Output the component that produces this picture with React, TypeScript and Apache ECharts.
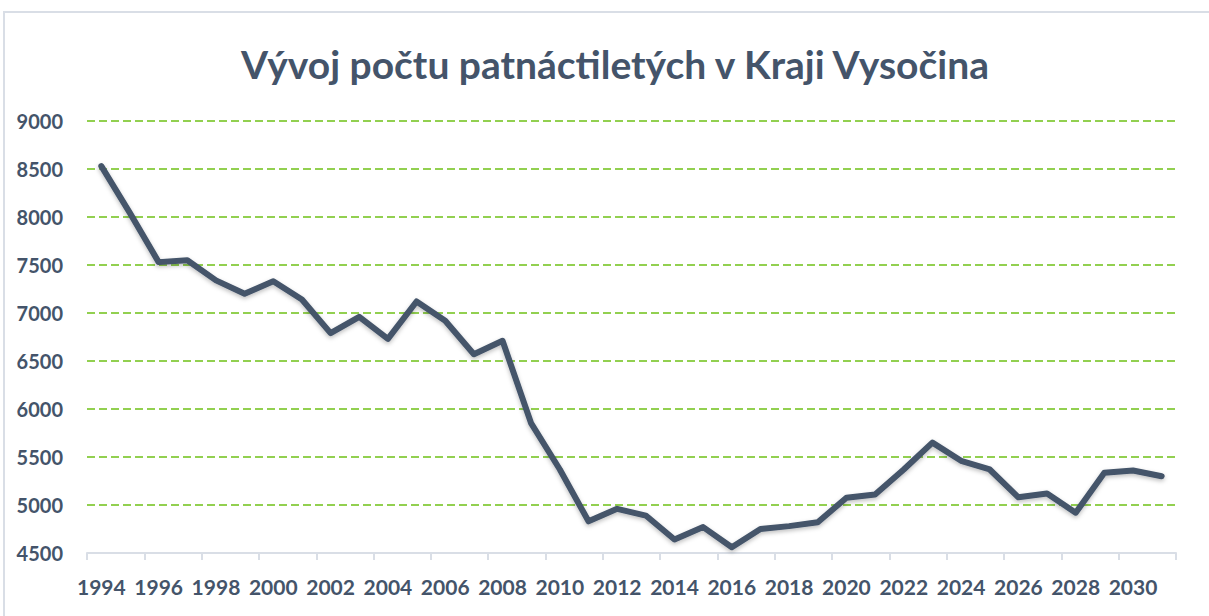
import React, { useEffect, useRef } from "react";
import * as echarts from "echarts";

const years: string[] = [
  "1994", "1995", "1996", "1997", "1998", "1999", "2000", "2001", "2002", "2003",
  "2004", "2005", "2006", "2007", "2008", "2009", "2010", "2011", "2012", "2013",
  "2014", "2015", "2016", "2017", "2018", "2019", "2020", "2021", "2022", "2023",
  "2024", "2025", "2026", "2027", "2028", "2029", "2030", "2031",
];

const counts: number[] = [
  8530, 8040, 7530, 7550, 7340, 7200, 7330, 7140, 6790, 6960,
  6730, 7120, 6920, 6570, 6710, 5850, 5370, 4830, 4960, 4890,
  4640, 4770, 4560, 4750, 4780, 4820, 5075, 5110, 5370, 5650,
  5460, 5370, 5080, 5120, 4920, 5335, 5360, 5300,
];

const yTicks: number[] = [4500, 5000, 5500, 6000, 6500, 7000, 7500, 8000, 8500, 9000];

const titleText = "Vývoj počtu patnáctiletých v Kraji Vysočina";

const DARK = "#44546a";

export default function App() {
  const ref = useRef<HTMLDivElement>(null);
  useEffect(() => {
    if (!ref.current) return;
    const chart = echarts.init(ref.current, null, { renderer: "svg" });
    chart.setOption({
      animation: false,
      backgroundColor: "#ffffff",
      graphic: [
        {
          type: "rect",
          shape: { x: 4, y: 12, width: 1220, height: 620 },
          style: { fill: "none", stroke: "#d9dee6", lineWidth: 2 },
          silent: true,
        },
      ],
      title: {
        text: titleText,
        left: 241,
        top: 44,
        itemGap: 0,
        padding: 0,
        textStyle: {
          fontFamily: "Lato",
          fontWeight: "bold",
          fontSize: 39,
          color: DARK,
        },
      },
      grid: { left: 87, right: 33, top: 121, bottom: 63, containLabel: false },
      xAxis: {
        type: "category",
        data: years,
        boundaryGap: true,
        axisLine: { show: true, lineStyle: { color: "#d9dee6", width: 2 } },
        axisTick: { show: true, length: 7, lineStyle: { color: "#d9dee6", width: 2 } },
        axisLabel: {
          interval: 1,
          margin: 23,
          fontFamily: "Lato",
          fontWeight: "bold",
          fontSize: 21,
          color: DARK,
        },
        splitLine: { show: false },
      },
      yAxis: {
        type: "value",
        min: yTicks[0],
        max: yTicks[yTicks.length - 1],
        interval: 500,
        axisLine: { show: false },
        axisTick: { show: false },
        axisLabel: {
          margin: 24,
          fontFamily: "Lato",
          fontWeight: "bold",
          fontSize: 20,
          color: DARK,
          formatter: (v: number) => String(v),
        },
        splitLine: {
          show: true,
          lineStyle: { color: "#92d050", width: 2, type: [8, 4] },
        },
      },
      series: [
        {
          type: "line",
          data: counts,
          symbol: "none",
          smooth: false,
          lineStyle: {
            color: DARK,
            width: 6,
            cap: "round",
            join: "round",
            shadowColor: "rgba(0,0,0,0.25)",
            shadowBlur: 4,
            shadowOffsetY: 2,
          },
          z: 3,
        },
      ],
    });
    return () => chart.dispose();
  }, []);
  return (
    <div
      ref={ref}
      style={{ position: "fixed", left: 0, top: 0, width: 1209, height: 616 }}
    />
  );
}
